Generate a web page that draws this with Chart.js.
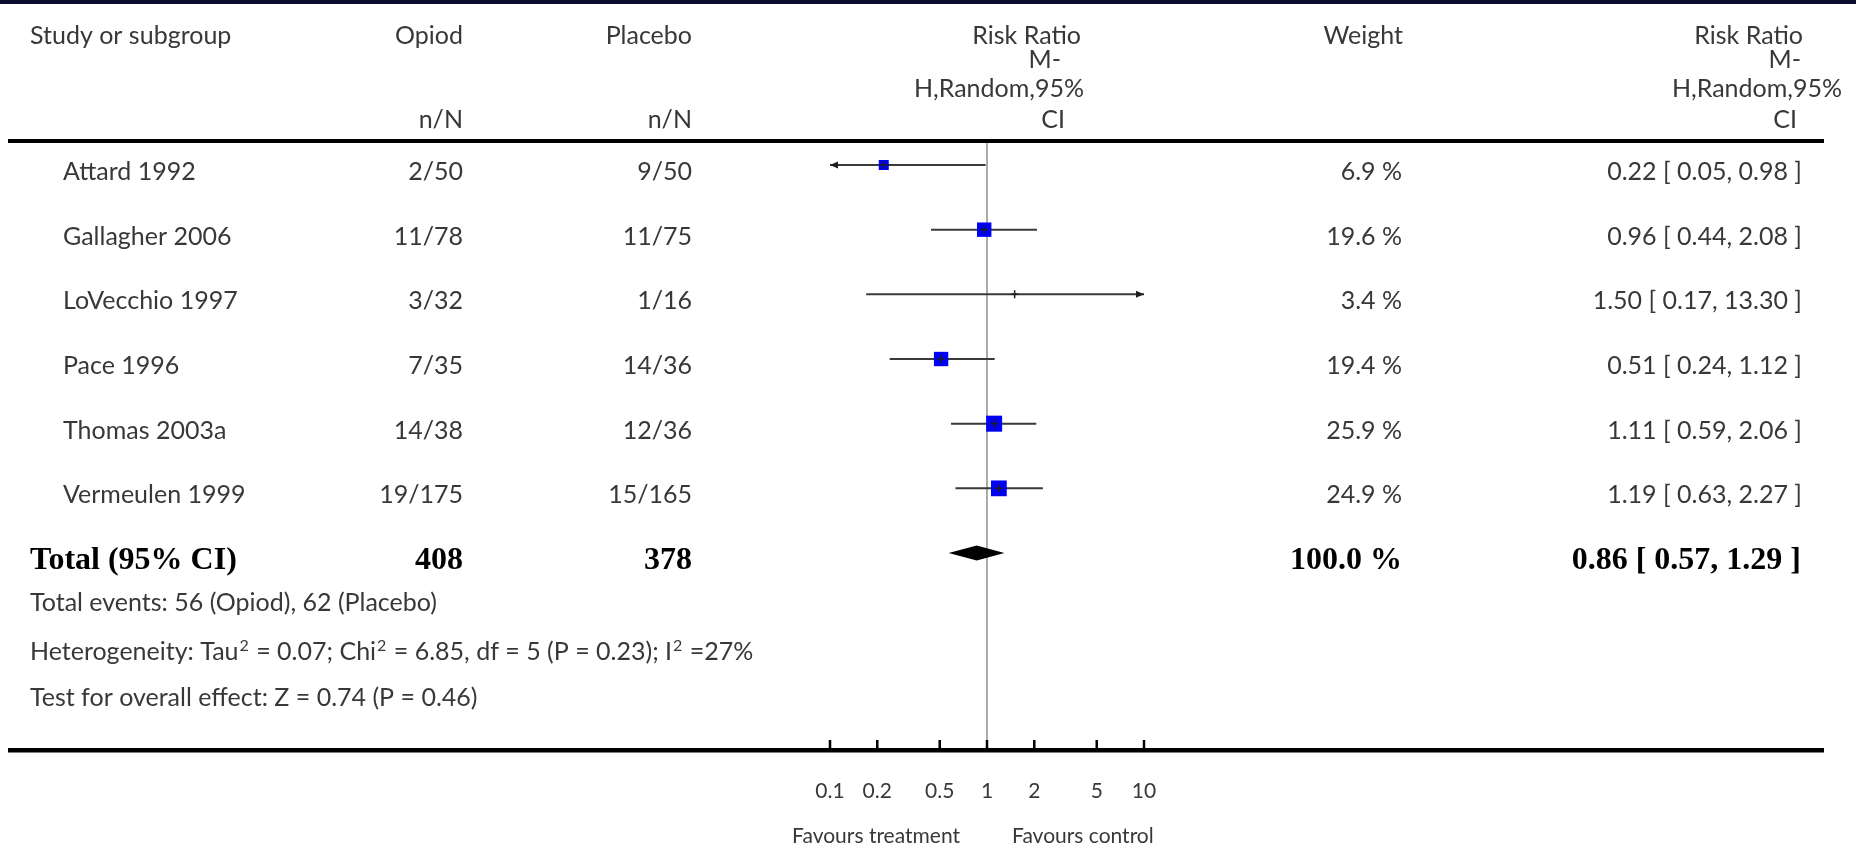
<!DOCTYPE html>
<html>
<head>
<meta charset="utf-8">
<title>Opiod versus placebo – Risk Ratio</title>
<script src="https://cdn.jsdelivr.net/npm/chart.js@4.4.1/dist/chart.umd.min.js"></script>
<style>
  html, body { margin: 0; padding: 0; background: #ffffff; }
  canvas { display: block; }
</style>
</head>
<body>
<canvas id="forest" width="1856" height="847"></canvas>
<script>
// ---- study data ----
const studies       = ['Attard 1992', 'Gallagher 2006', 'LoVecchio 1997', 'Pace 1996', 'Thomas 2003a', 'Vermeulen 1999'];
const opiodEvents   = [2, 11, 3, 7, 14, 19];
const opiodTotals   = [50, 78, 32, 35, 38, 175];
const placeboEvents = [9, 11, 1, 14, 12, 15];
const placeboTotals = [50, 75, 16, 36, 36, 165];
const riskRatio     = [0.22, 0.96, 1.50, 0.51, 1.11, 1.19];
const ciLower       = [0.05, 0.44, 0.17, 0.24, 0.59, 0.63];
const ciUpper       = [0.98, 2.08, 13.30, 1.12, 2.06, 2.27];
const weights       = [6.9, 19.6, 3.4, 19.4, 25.9, 24.9];

// ---- pooled estimate ----
const pooledRR     = 0.86;
const pooledLower  = 0.57;
const pooledUpper  = 1.29;
const pooledWeight = 100.0;

// ---- axis ----
const axisTicks      = [0.1, 0.2, 0.5, 1, 2, 5, 10];
const axisTickLabels = ['0.1', '0.2', '0.5', '1', '2', '5', '10'];
const axisMin = 0.1, axisMax = 10;
const favoursLeft  = 'Favours treatment';
const favoursRight = 'Favours control';

// ---- texts ----
const colStudy   = 'Study or subgroup';
const colOpiod   = 'Opiod';
const colPlacebo = 'Placebo';
const colWeight  = 'Weight';
const colEffect  = ['Risk Ratio', 'M-', 'H,Random,95%', 'CI'];
const colCounts  = 'n/N';
const totalLabel = 'Total (95% CI)';
// alternating plain / superscript pieces
const heterogeneityParts = ['Heterogeneity: Tau', '2', ' = 0.07; Chi', '2', ' = 6.85, df = 5 (P = 0.23); I', '2', ' =27%'];
const overallNote = 'Test for overall effect: Z = 0.74 (P = 0.46)';

const sum = a => a.reduce((s, v) => s + v, 0);
const totalEventsNote = 'Total events: ' + sum(opiodEvents) + ' (Opiod), ' + sum(placeboEvents) + ' (Placebo)';
const fmtCI = (r, l, u) => r.toFixed(2) + ' [ ' + l.toFixed(2) + ', ' + u.toFixed(2) + ' ]';

// ---- layout & style ----
const W = 1856, H = 847;
const AREA_LEFT = 830, AREA_RIGHT = 1144, AREA_TOP = 141, AREA_BOTTOM = 750;
const ROW_MIN = -0.371, ROW_MAX = 9.046;
const LINE_L = 8, LINE_R = 1824;
const X_NAME = 30, X_ROWNAME = 63, X_OPIOD = 463, X_PLACEBO = 692, X_WEIGHT = 1402, X_CI = 1802;
const ROW_BASE = 15;
const TEXT = '#383838';
const FONT = '25px Lato';
const FONT_SUP = '16px Lato';
const FONT_BOLD = 'bold 32px "Liberation Serif"';
const FONT_AXIS = '21px Lato';

// box side grows with study weight; very light studies only show the centre tick
const boxSide = w => (w < 5 ? 0 : 3.6 + 2.44 * Math.sqrt(w));

const pts = studies.map((s, i) => ({ x: riskRatio[i], y: i }));

const datasets = [
  { // centre tick of each estimate
    data: pts, pointStyle: 'cross', pointRadius: 4, borderColor: '#1e1e1e',
    borderWidth: 1.5, showLine: false, clip: false
  },
  { // weighted boxes
    data: pts, pointStyle: 'rect', showLine: false, clip: false,
    pointRadius: ctx => boxSide(weights[ctx.dataIndex]) / Math.SQRT2,
    backgroundColor: '#0000f5', borderColor: '#0000f5', borderWidth: 0
  }
];
studies.forEach((s, i) => {
  datasets.push({ // confidence interval
    data: [{ x: Math.max(ciLower[i], axisMin), y: i }, { x: Math.min(ciUpper[i], axisMax), y: i }],
    showLine: true, pointRadius: 0, borderColor: '#3a3a3a', borderWidth: 2, clip: false
  });
});

function text(ctx, s, x, y, align, font, color) {
  ctx.font = font;
  ctx.textAlign = align;
  ctx.textBaseline = 'alphabetic';
  ctx.fillStyle = color || TEXT;
  ctx.fillText(s, x, y);
}

function textWithSup(ctx, parts, x, y) {
  ctx.textAlign = 'left';
  ctx.textBaseline = 'alphabetic';
  ctx.fillStyle = TEXT;
  let cx = x;
  parts.forEach((p, k) => {
    const sup = k % 2 === 1;
    ctx.font = sup ? FONT_SUP : FONT;
    ctx.fillText(p, cx + (sup ? 1 : 0), sup ? y - 9 : y);
    cx += ctx.measureText(p).width + (sup ? 2 : 0);
  });
}

const forestDecor = {
  id: 'forestDecor',
  beforeDraw(chart) {
    const ctx = chart.ctx;
    ctx.save();
    ctx.fillStyle = '#ffffff';
    ctx.fillRect(0, 0, W, H);
    ctx.fillStyle = '#0c0c2c';
    ctx.fillRect(0, 0, W, 4);
    ctx.restore();
  },
  beforeDatasetsDraw(chart) {
    const ctx = chart.ctx;
    const xs = chart.scales.x, ys = chart.scales.y;
    const x1 = xs.getPixelForValue(1);
    ctx.save();

    // line of no effect
    ctx.strokeStyle = '#8f8f8f';
    ctx.lineWidth = 1.5;
    ctx.beginPath();
    ctx.moveTo(x1, AREA_TOP);
    ctx.lineTo(x1, AREA_BOTTOM);
    ctx.stroke();

    // heavy rules
    ctx.fillStyle = '#000';
    ctx.fillRect(LINE_L, AREA_TOP - 2, LINE_R - LINE_L, 4);
    ctx.fillRect(LINE_L, AREA_BOTTOM - 2, LINE_R - LINE_L, 4.5);

    // axis tick marks
    xs.ticks.forEach(t => {
      const px = xs.getPixelForValue(t.value);
      ctx.fillRect(px - 1.25, AREA_BOTTOM - 10, 2.5, 10);
    });

    // header
    text(ctx, colStudy, X_NAME, 44, 'left', FONT);
    text(ctx, colOpiod, X_OPIOD, 44, 'right', FONT);
    text(ctx, colPlacebo, X_PLACEBO, 44, 'right', FONT);
    text(ctx, colWeight, X_WEIGHT + 1, 44, 'right', FONT);
    text(ctx, colCounts, X_OPIOD, 128, 'right', FONT);
    text(ctx, colCounts, X_PLACEBO, 128, 'right', FONT);
    const hdrY = [44, 68, 97, 128];
    const midR = [1081, 1061, 1084, 1065];
    const rightR = [1803, 1801, 1842, 1797];
    colEffect.forEach((s, k) => {
      text(ctx, s, midR[k], hdrY[k], 'right', FONT);
      text(ctx, s, rightR[k], hdrY[k], 'right', FONT);
    });

    // study rows
    studies.forEach((s, i) => {
      const y = ys.getPixelForValue(i) + ROW_BASE;
      text(ctx, s, X_ROWNAME, y, 'left', FONT);
      text(ctx, opiodEvents[i] + '/' + opiodTotals[i], X_OPIOD, y, 'right', FONT);
      text(ctx, placeboEvents[i] + '/' + placeboTotals[i], X_PLACEBO, y, 'right', FONT);
      text(ctx, weights[i].toFixed(1) + ' %', X_WEIGHT, y, 'right', FONT);
      text(ctx, fmtCI(riskRatio[i], ciLower[i], ciUpper[i]), X_CI, y, 'right', FONT);
    });

    // total row
    const ty = ys.getPixelForValue(studies.length) + 16;
    text(ctx, totalLabel, X_NAME, ty, 'left', FONT_BOLD, '#000');
    text(ctx, String(sum(opiodTotals)), X_OPIOD, ty, 'right', FONT_BOLD, '#000');
    text(ctx, String(sum(placeboTotals)), X_PLACEBO, ty, 'right', FONT_BOLD, '#000');
    text(ctx, pooledWeight.toFixed(1) + ' %', X_WEIGHT, ty, 'right', FONT_BOLD, '#000');
    text(ctx, fmtCI(pooledRR, pooledLower, pooledUpper), X_CI - 1, ty, 'right', FONT_BOLD, '#000');

    // notes
    text(ctx, totalEventsNote, X_NAME, ty + 42, 'left', FONT);
    textWithSup(ctx, heterogeneityParts, X_NAME, ty + 91);
    text(ctx, overallNote, X_NAME, ty + 137, 'left', FONT);

    // favours labels
    text(ctx, favoursLeft, x1 - 27, 843, 'right', FONT_AXIS);
    text(ctx, favoursRight, x1 + 25, 843, 'left', FONT_AXIS);
    ctx.restore();
  },
  afterDatasetsDraw(chart) {
    const ctx = chart.ctx;
    const xs = chart.scales.x, ys = chart.scales.y;
    ctx.save();
    ctx.fillStyle = '#1e1e1e';
    // arrows where an interval runs past the axis
    studies.forEach((s, i) => {
      const y = ys.getPixelForValue(i);
      if (ciLower[i] < axisMin) {
        const px = xs.getPixelForValue(axisMin);
        ctx.beginPath();
        ctx.moveTo(px, y); ctx.lineTo(px + 8, y - 3.5); ctx.lineTo(px + 8, y + 3.5);
        ctx.closePath(); ctx.fill();
      }
      if (ciUpper[i] > axisMax) {
        const px = xs.getPixelForValue(axisMax);
        ctx.beginPath();
        ctx.moveTo(px, y); ctx.lineTo(px - 8, y - 3.5); ctx.lineTo(px - 8, y + 3.5);
        ctx.closePath(); ctx.fill();
      }
    });
    // pooled diamond
    const dy = ys.getPixelForValue(studies.length);
    ctx.fillStyle = '#000';
    ctx.beginPath();
    ctx.moveTo(xs.getPixelForValue(pooledLower), dy);
    ctx.lineTo(xs.getPixelForValue(pooledRR), dy - 7.5);
    ctx.lineTo(xs.getPixelForValue(pooledUpper), dy);
    ctx.lineTo(xs.getPixelForValue(pooledRR), dy + 7.5);
    ctx.closePath();
    ctx.fill();
    ctx.restore();
  }
};

new Chart(document.getElementById('forest'), {
  type: 'scatter',
  data: { datasets },
  options: {
    responsive: false,
    animation: false,
    events: [],
    layout: { padding: { left: AREA_LEFT, right: W - AREA_RIGHT, top: AREA_TOP, bottom: 0 } },
    plugins: { legend: { display: false }, tooltip: { enabled: false } },
    scales: {
      x: {
        type: 'logarithmic',
        position: 'bottom',
        min: axisMin,
        max: axisMax,
        afterBuildTicks: s => { s.ticks = axisTicks.map(v => ({ value: v })); },
        afterFit: s => { s.height = H - AREA_BOTTOM; },
        grid: { display: false, drawTicks: false },
        border: { display: false },
        ticks: {
          autoSkip: false, maxRotation: 0, minRotation: 0, padding: 29,
          color: TEXT, font: { family: 'Lato', size: 21 },
          callback: v => axisTickLabels[axisTicks.indexOf(v)]
        }
      },
      y: { type: 'linear', min: ROW_MIN, max: ROW_MAX, reverse: true, display: false }
    }
  },
  plugins: [forestDecor]
});
</script>
</body>
</html>
